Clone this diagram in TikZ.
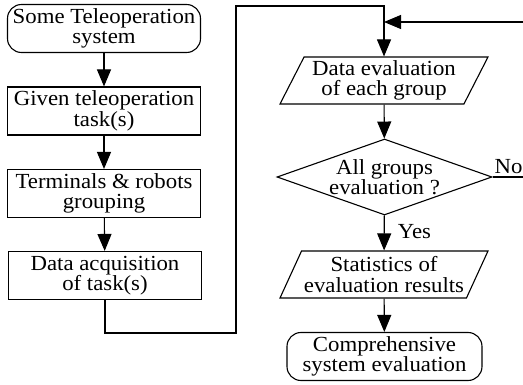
\documentclass[tikz,border=0pt]{standalone}
\usepackage{fontspec}
\setmainfont[FakeStretch=1.06]{Liberation Serif}
\usetikzlibrary{shapes.geometric,arrows.meta}

\begin{document}
\begin{tikzpicture}[x=1pt,y=-1pt,line width=1.1pt,>={Triangle[length=17pt,width=14pt]},
    font=\fontsize{21.5}{20.5}\selectfont]
  \tikzstyle{process}=[draw,rectangle,minimum width=193pt,minimum height=48pt,inner sep=0pt,align=center]
  \tikzstyle{term}=[process,rounded corners=14pt]
  \tikzstyle{io}=[draw,trapezium,trapezium left angle=59,trapezium right angle=121,
    trapezium stretches body,minimum width=208pt,minimum height=47pt,inner sep=0pt,align=center]
  \tikzstyle{decision}=[draw,diamond,aspect=2.8,minimum width=215pt,minimum height=76pt,
    inner sep=0pt,align=center,font=\fontsize{21.5}{16}\selectfont]
  \useasboundingbox (0,0) rectangle (523,385);
  % left column
  \node[term]    (start) at (104,28.5)  {Some Teleoperation\\system};
  \node[process] (given) at (104,111)   {Given teleoperation\\task(s)};
  \node[process] (group) at (104,193.5) {Terminals \& robots\\grouping};
  \node[process] (acq)   at (105,275.5) {Data acquisition\\of task(s)};
  % right column
  \node[io]       (evalg) at (384,80.5)  {Data evaluation\\of each group};
  \node[decision] (check) at (384.5,177) {All groups\\evaluation ?};
  \node[io]       (stats) at (384,274.5) {Statistics of\\evaluation results};
  \node[term,minimum width=195pt] (final) at (384.5,356.5) {Comprehensive\\system evaluation};
  \node[anchor=west] (yes) at (394,232) {Yes};
  \node[anchor=base west,inner sep=0pt] (no) at (494,174) {No};
  \coordinate (c1) at (236,333);
  \coordinate (c2) at (236,6);
  \coordinate (fb) at (535,22);
  \draw[->] (start) -- (given);
  \draw[->] (given) -- (group);
  \draw[->] (group) -- (acq);
  \draw[->] (acq.south) |- (c1) -- (c2) -| (evalg.north);
  \draw[->] (evalg) -- (check);
  \draw[->] (check) -- (stats);
  \draw[->] (stats) -- (final);
  \draw[->] (check.east) -| (fb) -- (evalg.north |- fb);
\end{tikzpicture}
\end{document}
